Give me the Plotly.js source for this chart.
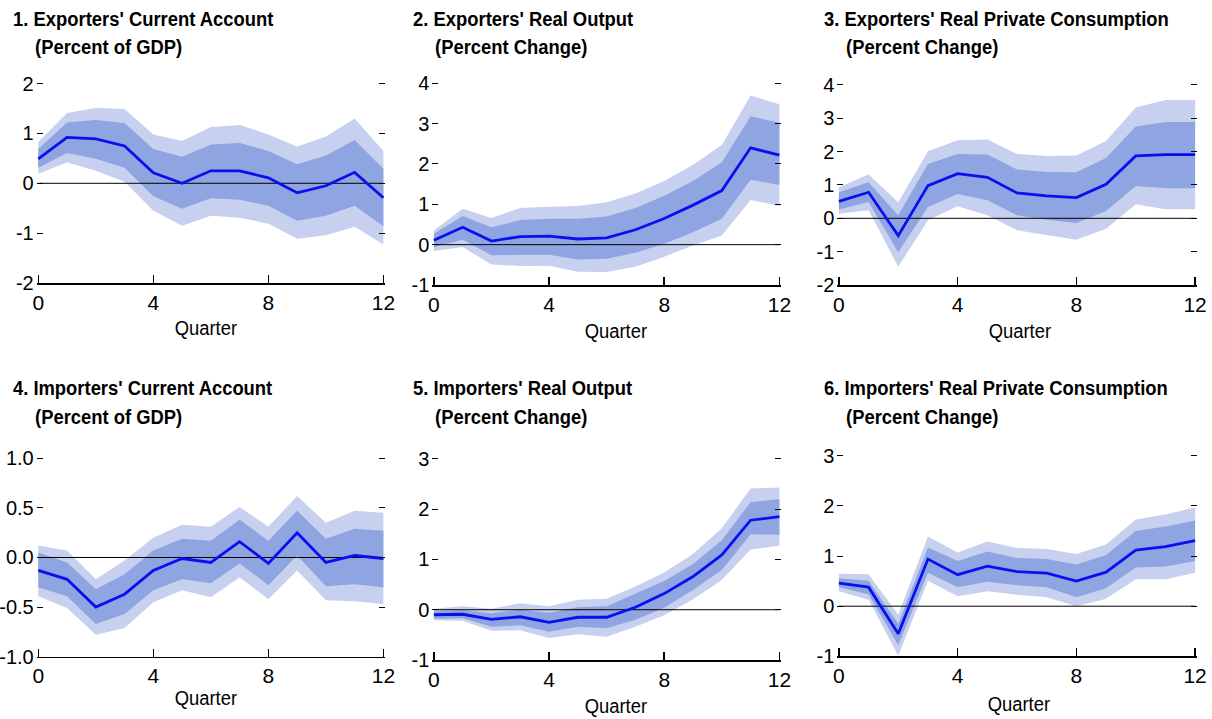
<!DOCTYPE html>
<html>
<head>
<meta charset="utf-8">
<script src="https://cdn.plot.ly/plotly-3.0.1.min.js"></script>
<style>
  html, body { margin: 0; padding: 0; background: #fff; }
  #chart { width: 1212px; height: 719px; }
</style>
</head>
<body>
<div id="chart"></div>
<script>
// Horizon in quarters after the shock
const quarters = [0, 1, 2, 3, 4, 5, 6, 7, 8, 9, 10, 11, 12];

// 1. Exporters' current account (percent of GDP)
const exCAMid   = [0.49, 0.92, 0.89, 0.75, 0.21, 0.00, 0.25, 0.25, 0.11, -0.19, -0.05, 0.22, -0.29];
const exCAHi68  = [0.69, 1.22, 1.27, 1.21, 0.69, 0.53, 0.78, 0.81, 0.65, 0.38, 0.56, 0.87, 0.29];
const exCALo68  = [0.31, 0.61, 0.49, 0.31, -0.26, -0.51, -0.30, -0.33, -0.45, -0.75, -0.65, -0.45, -0.86];
const exCAHi90  = [0.83, 1.41, 1.51, 1.49, 0.98, 0.85, 1.13, 1.17, 0.98, 0.74, 0.94, 1.30, 0.65];
const exCALo90  = [0.19, 0.42, 0.25, 0.03, -0.55, -0.85, -0.65, -0.69, -0.81, -1.11, -1.04, -0.87, -1.23];

// 2. Exporters' real output (percent change)
const exYMid    = [0.11, 0.43, 0.09, 0.20, 0.21, 0.14, 0.17, 0.37, 0.65, 0.98, 1.34, 2.40, 2.22];
const exYHi68   = [0.27, 0.71, 0.43, 0.61, 0.64, 0.64, 0.70, 0.91, 1.21, 1.58, 2.04, 3.18, 3.02];
const exYLo68   = [-0.06, 0.12, -0.26, -0.26, -0.25, -0.37, -0.35, -0.20, 0.02, 0.31, 0.64, 1.61, 1.48];
const exYHi90   = [0.35, 0.89, 0.66, 0.91, 0.94, 0.96, 1.05, 1.27, 1.58, 1.98, 2.47, 3.70, 3.48];
const exYLo90   = [-0.16, -0.06, -0.49, -0.53, -0.52, -0.67, -0.68, -0.55, -0.30, -0.02, 0.23, 1.11, 0.96];

// 3. Exporters' real private consumption (percent change)
const exCMid    = [0.51, 0.78, -0.52, 0.98, 1.34, 1.23, 0.76, 0.67, 0.62, 1.02, 1.87, 1.91, 1.91];
const exCHi68   = [0.78, 1.08, 0.09, 1.63, 1.93, 1.91, 1.46, 1.39, 1.38, 1.81, 2.75, 2.89, 2.89];
const exCLo68   = [0.26, 0.49, -1.02, 0.34, 0.73, 0.54, 0.09, -0.04, -0.14, 0.22, 0.97, 0.90, 0.90];
const exCHi90   = [0.93, 1.31, 0.48, 2.01, 2.34, 2.36, 1.93, 1.87, 1.88, 2.32, 3.32, 3.55, 3.55];
const exCLo90   = [0.14, 0.24, -1.45, -0.06, 0.36, 0.09, -0.36, -0.51, -0.64, -0.31, 0.42, 0.27, 0.27];

// 4. Importers' current account (percent of GDP)
const imCAMid   = [-0.13, -0.22, -0.50, -0.37, -0.13, -0.01, -0.05, 0.16, -0.06, 0.25, -0.05, 0.02, -0.01];
const imCAHi68  = [0.05, -0.05, -0.32, -0.17, 0.07, 0.19, 0.17, 0.38, 0.17, 0.47, 0.19, 0.29, 0.27];
const imCALo68  = [-0.30, -0.39, -0.67, -0.57, -0.33, -0.22, -0.26, -0.06, -0.28, 0.02, -0.29, -0.27, -0.30];
const imCAHi90  = [0.12, 0.07, -0.22, -0.03, 0.20, 0.33, 0.31, 0.51, 0.31, 0.62, 0.35, 0.47, 0.45];
const imCALo90  = [-0.39, -0.51, -0.78, -0.71, -0.45, -0.33, -0.40, -0.20, -0.42, -0.13, -0.43, -0.44, -0.47];

// 5. Importers' real output (percent change)
const imYMid    = [-0.10, -0.09, -0.19, -0.14, -0.25, -0.15, -0.15, 0.05, 0.32, 0.66, 1.09, 1.78, 1.85];
const imYHi68   = [-0.03, -0.01, -0.07, 0.00, -0.06, 0.05, 0.07, 0.32, 0.57, 0.91, 1.38, 2.14, 2.20];
const imYLo68   = [-0.18, -0.17, -0.34, -0.31, -0.44, -0.34, -0.37, -0.20, 0.04, 0.39, 0.79, 1.50, 1.49];
const imYHi90   = [0.02, 0.07, 0.02, 0.13, 0.07, 0.20, 0.22, 0.46, 0.74, 1.11, 1.62, 2.41, 2.43];
const imYLo90   = [-0.21, -0.22, -0.42, -0.41, -0.56, -0.49, -0.54, -0.34, -0.11, 0.21, 0.59, 1.20, 1.27];

// 6. Importers' real private consumption (percent change)
const imCMid    = [0.46, 0.38, -0.55, 0.94, 0.63, 0.80, 0.69, 0.66, 0.50, 0.68, 1.12, 1.19, 1.31];
const imCHi68   = [0.56, 0.51, -0.35, 1.17, 0.90, 1.09, 0.96, 0.94, 0.83, 1.02, 1.50, 1.59, 1.71];
const imCLo68   = [0.38, 0.24, -0.78, 0.67, 0.38, 0.49, 0.42, 0.38, 0.18, 0.36, 0.77, 0.79, 0.90];
const imCHi90   = [0.65, 0.64, -0.17, 1.39, 1.07, 1.29, 1.16, 1.14, 1.04, 1.23, 1.73, 1.83, 1.97];
const imCLo90   = [0.30, 0.13, -0.99, 0.51, 0.20, 0.30, 0.23, 0.18, 0.00, 0.15, 0.54, 0.54, 0.67];

// Panel headings and units
const panelTitles = [
  "1. Exporters' Current Account",
  "2. Exporters' Real Output",
  "3. Exporters' Real Private Consumption",
  "4. Importers' Current Account",
  "5. Importers' Real Output",
  "6. Importers' Real Private Consumption"
];
const panelUnits = [
  "(Percent of GDP)", "(Percent Change)", "(Percent Change)",
  "(Percent of GDP)", "(Percent Change)", "(Percent Change)"
];

// Y tick values per panel
const yTicks1 = [-2, -1, 0, 1, 2];
const yTicks2 = [-1, 0, 1, 2, 3, 4];
const yTicks3 = [-2, -1, 0, 1, 2, 3, 4];
const yTicks4 = [-1.0, -0.5, 0.0, 0.5, 1.0];
const yTicks5 = [-1, 0, 1, 2, 3];
const yTicks6 = [-1, 0, 1, 2, 3];
const xTicks  = [0, 4, 8, 12];
const xTitle  = "Quarter";

// ---------------------------------------------------------------
const W = 1212, H = 719;
const FONT = "'Liberation Sans', Arial, sans-serif";
const LIGHT = '#c7d0ef';
const DARK = '#8fa5e1';
const LINE = '#0a0ff0';
const EDGE_PX = 1.6;        // keeps end ticks just inside the plot edge
const TEXT_SQUEEZE = 0.92;  // condensed look for headings

const panels = [
  { mid: exCAMid, hi68: exCAHi68, lo68: exCALo68, hi90: exCAHi90, lo90: exCALo90, ticks: yTicks1, decimals: 0,
    box: [36.7, 385, 82, 283], titleX: 11, unitX: 33, titleY: 19, unitY: 47, qX: 206, qY: 328 },
  { mid: exYMid, hi68: exYHi68, lo68: exYLo68, hi90: exYHi90, lo90: exYLo90, ticks: yTicks2, decimals: 0,
    box: [432.3, 781, 81.7, 285], titleX: 411, unitX: 433, titleY: 19, unitY: 47, qX: 616, qY: 331 },
  { mid: exCMid, hi68: exCHi68, lo68: exCLo68, hi90: exCHi90, lo90: exCLo90, ticks: yTicks3, decimals: 0,
    box: [837.3, 1196.7, 83.3, 285], titleX: 822, unitX: 844, titleY: 19, unitY: 47, qX: 1020, qY: 331 },
  { mid: imCAMid, hi68: imCAHi68, lo68: imCALo68, hi90: imCAHi90, lo90: imCALo90, ticks: yTicks4, decimals: 1,
    box: [36.7, 385, 456.7, 656.7], titleX: 11, unitX: 33, titleY: 388, unitY: 417, qX: 206, qY: 698 },
  { mid: imYMid, hi68: imYHi68, lo68: imYLo68, hi90: imYHi90, lo90: imYLo90, ticks: yTicks5, decimals: 0,
    box: [432.3, 781, 457.3, 660], titleX: 411, unitX: 433, titleY: 388, unitY: 417, qX: 616, qY: 706 },
  { mid: imCMid, hi68: imCHi68, lo68: imCLo68, hi90: imCHi90, lo90: imCLo90, ticks: yTicks6, decimals: 0,
    box: [837.3, 1196.7, 454.3, 656.3], titleX: 822, unitX: 844, titleY: 388, unitY: 417, qX: 1019, qY: 704 }
];

const traces = [];
const layout = {
  width: W, height: H,
  margin: { l: 0, r: 0, t: 0, b: 0 },
  paper_bgcolor: '#fff', plot_bgcolor: 'rgba(0,0,0,0)',
  showlegend: false,
  font: { family: FONT, size: 19, color: '#000' },
  annotations: []
};

panels.forEach((p, i) => {
  const n = i + 1;
  const xa = n === 1 ? 'x' : 'x' + n;
  const ya = n === 1 ? 'y' : 'y' + n;
  const base = { x: quarters, xaxis: xa, yaxis: ya, mode: 'lines', hoverinfo: 'skip' };

  // outer (90%) band
  traces.push(Object.assign({}, base, { y: p.lo90, line: { width: 0, color: LIGHT } }));
  traces.push(Object.assign({}, base, { y: p.hi90, line: { width: 0, color: LIGHT }, fill: 'tonexty', fillcolor: LIGHT }));
  // inner (68%) band
  traces.push(Object.assign({}, base, { y: p.lo68, line: { width: 0, color: DARK } }));
  traces.push(Object.assign({}, base, { y: p.hi68, line: { width: 0, color: DARK }, fill: 'tonexty', fillcolor: DARK }));
  // zero reference line across the horizon
  traces.push({ x: [quarters[0], quarters[quarters.length - 1]], y: [0, 0], xaxis: xa, yaxis: ya,
    mode: 'lines', line: { color: '#000', width: 1 }, hoverinfo: 'skip' });
  // central response
  traces.push(Object.assign({}, base, { y: p.mid, line: { width: 2.8, color: LINE } }));

  const [x0, x1, yTop, yBot] = p.box;
  const lo = p.ticks[0], hi = p.ticks[p.ticks.length - 1];
  const qLo = quarters[0], qHi = quarters[quarters.length - 1];
  const xPad = (qHi - qLo) * EDGE_PX / (x1 - x0);
  const yPad = (hi - lo) * EDGE_PX / (yBot - yTop);

  layout['xaxis' + (n === 1 ? '' : n)] = {
    domain: [x0 / W, x1 / W], anchor: ya, range: [qLo - xPad, qHi + xPad],
    tickmode: 'array', tickvals: xTicks, ticktext: xTicks.map(String),
    ticks: 'inside', ticklen: 8, tickwidth: 1.5, tickcolor: '#000',
    showline: true, linecolor: '#000', linewidth: 1.5,
    showgrid: false, zeroline: false, fixedrange: true,
    tickfont: { family: FONT, size: 21, color: '#000' }
  };
  layout['yaxis' + (n === 1 ? '' : n)] = {
    domain: [1 - yBot / H, 1 - yTop / H], anchor: xa, range: [lo, hi + yPad],
    tickmode: 'array', tickvals: p.ticks, ticktext: p.ticks.map(v => v.toFixed(p.decimals)),
    ticks: 'inside', ticklen: 6, tickwidth: 1, tickcolor: '#000', mirror: 'ticks',
    ticklabelstandoff: 2,
    showline: false, showgrid: false, zeroline: false, fixedrange: true,
    tickfont: { family: FONT, size: 20, color: '#000' }
  };

  // heading and unit (left aligned), horizon label (centred)
  layout.annotations.push({ xref: 'paper', yref: 'paper', x: p.titleX / W, y: 1 - p.titleY / H,
    xanchor: 'left', yanchor: 'middle', showarrow: false, text: '<b>' + panelTitles[i] + '</b>',
    font: { family: FONT, size: 20, color: '#000' } });
  layout.annotations.push({ xref: 'paper', yref: 'paper', x: p.unitX / W, y: 1 - p.unitY / H,
    xanchor: 'left', yanchor: 'middle', showarrow: false, text: '<b>' + panelUnits[i] + '</b>',
    font: { family: FONT, size: 20, color: '#000' } });
  layout.annotations.push({ xref: 'paper', yref: 'paper', x: p.qX / W, y: 1 - p.qY / H,
    xanchor: 'center', yanchor: 'middle', showarrow: false, text: xTitle,
    font: { family: FONT, size: 20, color: '#000' } });
});

Plotly.newPlot('chart', traces, layout, { staticPlot: true, displayModeBar: false }).then(gd => {
  // narrow the heading and axis-title lettering; keep left-aligned ones on their left edge
  gd.querySelectorAll('.annotation').forEach(g => {
    const idx = parseInt(g.getAttribute('data-index'), 10);
    const t = g.querySelector('.annotation-text');
    if (!t) return;
    const len = t.getComputedTextLength();
    t.setAttribute('lengthAdjust', 'spacingAndGlyphs');
    t.setAttribute('textLength', (len * TEXT_SQUEEZE).toFixed(1));
    if (idx % 3 !== 2) {
      const x = parseFloat(t.getAttribute('x')) || 0;
      t.setAttribute('x', (x - len * (1 - TEXT_SQUEEZE) / 2).toFixed(1));
    }
  });
});
</script>
</body>
</html>
